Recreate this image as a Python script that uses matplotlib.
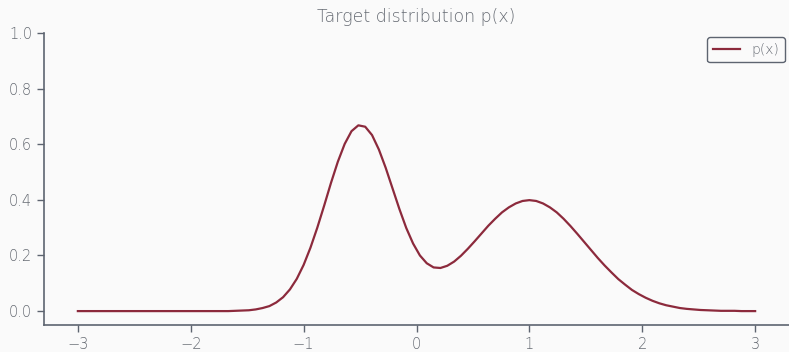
import numpy as np
import matplotlib.pyplot as plt

# grid of sample points and the density values on it
x = np.linspace(-3, 3, 100)
p = [
    0.000, 0.000, 0.000, 0.000, 0.000, 0.000, 0.000, 0.000, 0.000, 0.000,
    0.000, 0.000, 0.000, 0.000, 0.000, 0.000, 0.000, 0.000, 0.000, 0.000,
    0.000, 0.000, 0.000, 0.001, 0.002, 0.003, 0.006, 0.011, 0.018, 0.031,
    0.050, 0.078, 0.116, 0.166, 0.228, 0.300, 0.379, 0.461, 0.537, 0.601,
    0.647, 0.668, 0.663, 0.633, 0.581, 0.515, 0.441, 0.367, 0.299, 0.243,
    0.200, 0.172, 0.157, 0.155, 0.163, 0.178, 0.199, 0.224, 0.251, 0.279,
    0.307, 0.332, 0.355, 0.373, 0.387, 0.396, 0.399, 0.396, 0.387, 0.373,
    0.355, 0.332, 0.306, 0.278, 0.249, 0.220, 0.191, 0.164, 0.139, 0.115,
    0.095, 0.076, 0.061, 0.048, 0.037, 0.028, 0.021, 0.016, 0.011, 0.008,
    0.006, 0.004, 0.003, 0.002, 0.001, 0.001, 0.001, 0.000, 0.000, 0.000,
]

bg = "#fafafa"
txt = "#666b73"
axc = "#5d6470"

plt.rcParams["font.family"] = ["DejaVu Sans"]
plt.rcParams["font.weight"] = "light"

fig = plt.figure(figsize=(7.89, 3.52), dpi=100, facecolor=bg)
ax = fig.add_axes([44 / 789, 27 / 352, 745 / 789, 292 / 352], facecolor=bg)

ax.plot(x, p, color="#8c2a3c", lw=1.6, label="p(x)")

ax.set_xlim(-3.3, 3.3)
ax.set_ylim(-0.05, 1.0)
ax.set_xticks([-3, -2, -1, 0, 1, 2, 3])
ax.set_yticks([0.0, 0.2, 0.4, 0.6, 0.8, 1.0])

for s in ["top", "right"]:
    ax.spines[s].set_visible(False)
for s in ["left", "bottom"]:
    ax.spines[s].set_color(axc)
    ax.spines[s].set_linewidth(1.2)
ax.tick_params(colors=axc, labelcolor=txt, labelsize=10.5, length=5, width=1)

ax.set_title("Target distribution p(x)", color=txt, fontsize=12.5,
             fontweight="light", pad=8)

leg = ax.legend(loc="upper right", fontsize=10, fancybox=True,
                facecolor=bg, edgecolor=axc, framealpha=1,
                borderaxespad=0.3)
for t in leg.get_texts():
    t.set_color(txt)
leg.get_frame().set_linewidth(1.0)

fig.savefig("out.png", dpi=100, facecolor=bg)
